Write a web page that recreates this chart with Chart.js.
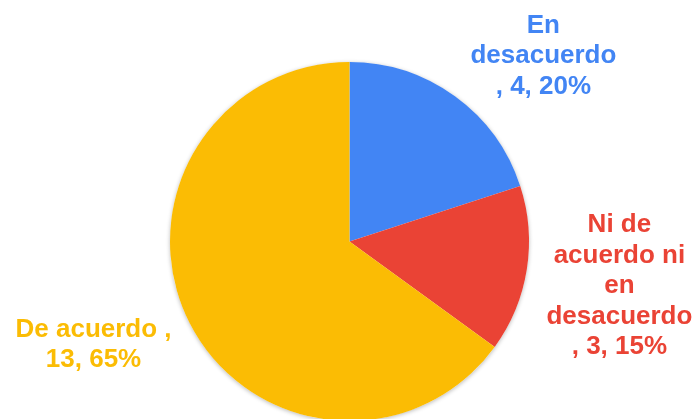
<!DOCTYPE html>
<html>
<head>
<meta charset="utf-8">
<script src="https://cdn.jsdelivr.net/npm/chart.js@4"></script>
<style>
  html, body { margin: 0; padding: 0; background: #fff; overflow: hidden; }
  #wrap { position: relative; width: 699px; height: 421px; }
</style>
</head>
<body>
<div id="wrap"><canvas id="c"></canvas></div>
<script>
// Survey answers and counts
const categories = ['En desacuerdo', 'Ni de acuerdo ni en desacuerdo', 'De acuerdo'];
const counts = [4, 3, 13];
const sliceColors = ['#4285F4', '#EA4335', '#FBBC04'];

// Wrapped label lines per slice
const labelLines = [
  ['En', 'desacuerdo', ', 4, 20%'],
  ['Ni de', 'acuerdo ni', 'en', 'desacuerdo', ', 3, 15%'],
  ['De acuerdo ,', '13, 65%']
];
// Label placement: angle (degrees clockwise from top) and distance in radii from the pie centre
const labelAngles = [46.3, 99.4, 248];
const labelDistances = [1.494, 1.524, 1.538];

const LINE_H = 30.5;
const FONT = 'bold 26px "Liberation Sans", Arial, sans-serif';

const pieShadow = {
  id: 'pieShadow',
  beforeDatasetsDraw(chart) {
    const arc = chart.getDatasetMeta(0).data[0];
    if (!arc) return;
    const ctx = chart.ctx;
    ctx.save();
    ctx.shadowColor = 'rgba(0,0,0,0.28)';
    ctx.shadowBlur = 4;
    ctx.shadowOffsetY = 1;
    ctx.fillStyle = '#ffffff';
    ctx.beginPath();
    ctx.arc(arc.x, arc.y, arc.outerRadius, 0, Math.PI * 2);
    ctx.fill();
    ctx.restore();
  }
};

const sliceLabels = {
  id: 'sliceLabels',
  afterDatasetsDraw(chart) {
    const meta = chart.getDatasetMeta(0);
    const ctx = chart.ctx;
    ctx.save();
    ctx.font = FONT;
    ctx.textAlign = 'center';
    ctx.textBaseline = 'middle';
    meta.data.forEach((arc, i) => {
      const a = labelAngles[i] * Math.PI / 180;
      const d = labelDistances[i] * arc.outerRadius;
      const cx = arc.x + Math.sin(a) * d;
      const cy = arc.y - Math.cos(a) * d;
      const lines = labelLines[i];
      const top = cy - (lines.length - 1) * LINE_H / 2;
      ctx.fillStyle = sliceColors[i];
      lines.forEach((t, k) => ctx.fillText(t, cx, top + k * LINE_H));
    });
    ctx.restore();
  }
};

new Chart(document.getElementById('c'), {
  type: 'pie',
  data: {
    labels: categories,
    datasets: [{
      data: counts,
      backgroundColor: sliceColors,
      borderWidth: 0
    }]
  },
  options: {
    responsive: true,
    maintainAspectRatio: false,
    animation: false,
    layout: { padding: { top: 62, bottom: 0, left: 0, right: 0 } },
    plugins: {
      legend: { display: false },
      tooltip: { enabled: false }
    }
  },
  plugins: [pieShadow, sliceLabels]
});
</script>
</body>
</html>
